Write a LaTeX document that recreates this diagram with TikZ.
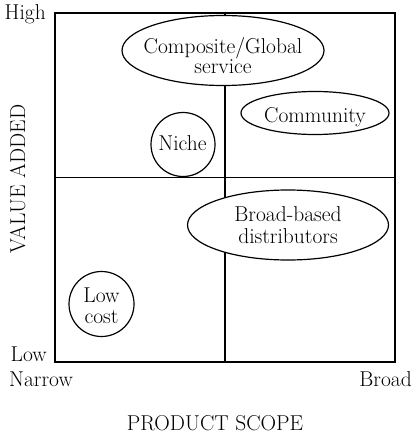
\documentclass[tikz,border=0pt]{standalone}
\usepackage{fontspec}
\usetikzlibrary{shapes.geometric}
\begin{document}
\begin{tikzpicture}[x=1pt,y=-1pt,
  lab/.style={font=\fontsize{21.5}{21.5}\selectfont, inner sep=0pt},
  group/.style={draw, fill=white, line width=1.2pt, ellipse, inner sep=0pt},
  grid/.style={line width=1.2pt}]
\useasboundingbox (0,0) rectangle (413,433);
% matrix frame and quadrant dividers
\coordinate (tl) at (55,13);
\coordinate (br) at (395,362);
\coordinate (vt) at (225,13);
\coordinate (vb) at (225,362);
\coordinate (hl) at (55,177.5);
\coordinate (hr) at (395,177.5);
\draw[grid] (tl) rectangle (br);
\draw[grid] (vt) -- (vb);
\draw[grid] (hl) -- (hr);
% strategic groups (outlines)
\node[group, minimum width=202pt, minimum height=70pt] (comp) at (223,50.5) {};
\node[group, minimum width=148pt, minimum height=43pt] (comm) at (315,113) {};
\node[group, circle, minimum size=64pt] (niche) at (183,144.5) {};
\node[group, minimum width=201pt, minimum height=70pt] (broad) at (288,225) {};
\node[group, circle, minimum size=65pt] (low) at (101.5,304) {};
% strategic groups (names)
\node[lab, anchor=base] (comp1) at (223,54) {Composite/Global};
\node[lab, anchor=base] (comp2) at (223,74) {service};
\node[lab, anchor=base] (comm1) at (315,122.5) {Community};
\node[lab, anchor=base] (niche1) at (182.5,150) {Niche};
\node[lab, anchor=base] (broad1) at (288,221.5) {Broad-based};
\node[lab, anchor=base] (broad2) at (288,243) {distributors};
\node[lab, anchor=base] (low1) at (101.5,302) {Low};
\node[lab, anchor=base] (low2) at (101.5,323) {cost};
% axis labels
\node[lab, anchor=base east] (high) at (46,20) {High};
\node[lab, anchor=base east] (lowv) at (47,361.5) {Low};
\node[lab, anchor=base west] (narrow) at (9,386) {Narrow};
\node[lab, anchor=base east] (wide) at (412,386) {Broad};
\node[lab, anchor=base] (xaxis) at (215,430) {PRODUCT SCOPE};
\node[lab, anchor=base, rotate=90] (yaxis) at (25,179) {VALUE ADDED};
\end{tikzpicture}
\end{document}
